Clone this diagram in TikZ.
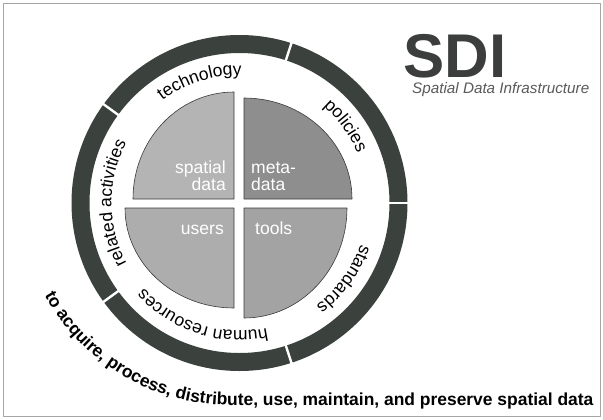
\documentclass[tikz,border=0pt]{standalone}
\usepackage{fontspec}
\setmainfont{Liberation Sans}
\usetikzlibrary{decorations.text}
\definecolor{ringgray}{HTML}{3B423E}
\definecolor{sdigray}{HTML}{3C3E3D}
\definecolor{qspatial}{HTML}{B4B4B4}
\definecolor{qmeta}{HTML}{8E8E8E}
\definecolor{qusers}{HTML}{ADADAD}
\definecolor{qtools}{HTML}{A3A3A3}
\newcommand{\ringfont}{\fontsize{17.6}{20}\selectfont}
\begin{document}
\begin{tikzpicture}[x=1bp, y=1bp, line join=round, line cap=round,
  quad/.style={draw=gray!45!black, line width=0.6pt},
  qlabel/.style={text=white, font=\ringfont, inner sep=0pt},
  ringtext/.style={decorate, decoration={text along path, text align=center, text={|\ringfont|#1}}}]
	\useasboundingbox (0,0) rectangle (603,419);
	\draw[gray!70, line width=0.8pt] (3,3) rectangle (600,416);
	\coordinate (C) at (239.5,216);
	\coordinate (D) at (230,226);
	\coordinate (TL) at (234,220); \coordinate (TR) at (244,220);
	\coordinate (BL) at (234,211); \coordinate (BR) at (244,211);
	% outer ring
	\draw[ringgray, line width=18bp] (C) circle[radius=159];
	\foreach \g in {0,72,...,288}
		\draw[white, line width=2.4bp, line cap=butt] (C) ++(\g:147) -- ++(\g:24);
	% four quarters
	\filldraw[quad, fill=qspatial] (TL) -- ++(-101,0) arc[start angle=180, end angle=90, x radius=101, y radius=107] -- cycle;
	\filldraw[quad, fill=qmeta] (TR) -- ++(108,0) arc[start angle=0, end angle=90, x radius=108, y radius=101] -- cycle;
	\filldraw[quad, fill=qusers] (BL) -- ++(-109,0) arc[start angle=180, end angle=270, x radius=109, y radius=100] -- cycle;
	\filldraw[quad, fill=qtools] (BR) -- ++(103,0) arc[start angle=0, end angle=-90, x radius=103, y radius=110] -- cycle;
	\node[qlabel, anchor=base east] (spatial) at (226,246) {spatial};
	\node[qlabel, anchor=base east] (spatialdata) at (226,229) {data};
	\node[qlabel, anchor=base west] (meta) at (251,246) {meta-};
	\node[qlabel, anchor=base west] (metadata) at (251,229) {data};
	\node[qlabel, anchor=base east] (users) at (224,185) {users};
	\node[qlabel, anchor=base west] (tools) at (255,185) {tools};
	% labels in the white band
	\path[ringtext=technology] (C) ++(148:128) arc[start angle=148, end angle=68, radius=128];
	\path[ringtext=policies] (C) ++(76:128) arc[start angle=76, end angle=-4, radius=128];
	\path[ringtext=standards] (C) ++(4:128) arc[start angle=4, end angle=-76, radius=128];
	\path[ringtext=human resources] (C) ++(-68:128) arc[start angle=-68, end angle=-148, radius=128];
	\path[ringtext=related activities] (C) ++(220:128) arc[start angle=220, end angle=140, radius=128];
	% bottom line
	\path[decorate, decoration={text along path, text={|\fontsize{17.5}{20}\selectfont\bfseries|to acquire, process, distribute, use, maintain, and preserve spatial data}}]
		(D) ++(209:212) arc[start angle=209, end angle=270, radius=212] -- (600,14);
	% title
	\node[anchor=base west, inner sep=0pt, text=sdigray, font=\fontsize{62}{62}\selectfont\bfseries] (sdi) at (403,342) {SDI};
	\node[anchor=base west, inner sep=0pt, text=gray!70!black, font=\fontsize{15.3}{18}\selectfont\itshape] (sdisub) at (412,326) {Spatial Data Infrastructure};
\end{tikzpicture}
\end{document}
